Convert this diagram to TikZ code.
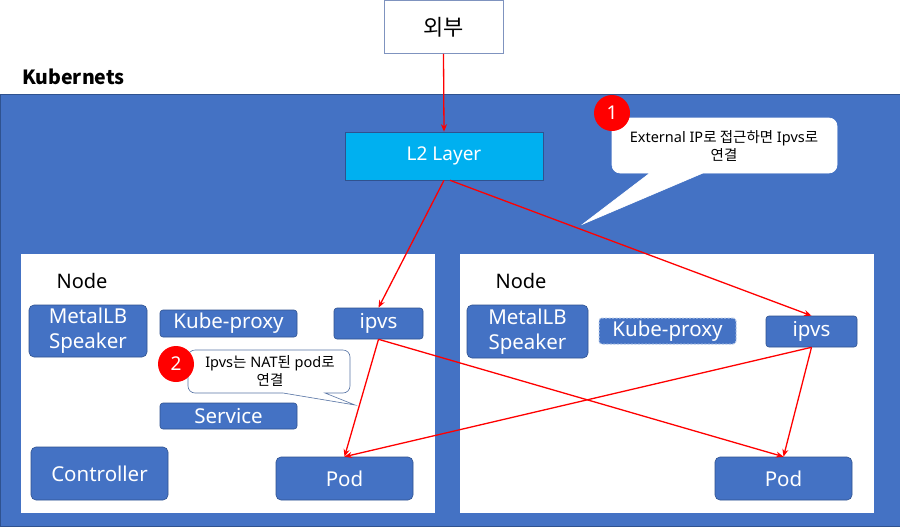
\documentclass[tikz,border=0pt]{standalone}
\usepackage{fontspec}
\setmainfont{Noto Sans}
\newfontfamily\kr{Noto Sans CJK KR}
\usetikzlibrary{arrows.meta}
\definecolor{kblue}{HTML}{4472C4}
\definecolor{kborder}{HTML}{2F528F}
\definecolor{lblue}{HTML}{00B0F0}
\definecolor{extborder}{HTML}{7F93BF}
\definecolor{dashb}{HTML}{B4C7E7}
\begin{document}
\begin{tikzpicture}[x=1pt,y=-1pt,
  bx/.style={rectangle,rounded corners=5pt,fill=kblue,draw=kborder,line width=0.6pt,
    text=white,inner sep=0pt,align=center,font=\fontsize{20.5}{24}\selectfont},
  hostbox/.style={fill=white,draw=none},
  lbl/.style={text=black,inner sep=0pt,font=\fontsize{20}{24}\selectfont},
  flow/.style={draw=red,line width=1.3pt,-{Stealth[length=7.5pt,width=6pt]}},
  badge/.style={circle,fill=red,text=white,inner sep=0pt,minimum size=36pt,font=\fontsize{19}{22}\selectfont},
  note/.style={text=black,inner sep=0pt,align=center,font=\fontsize{14.5}{17.5}\selectfont},
  callout/.style={fill=white,line width=0.6pt}]
\useasboundingbox (0,0) rectangle (900,528);
% outside
\node[rectangle,draw=extborder,fill=white,line width=0.8pt,minimum width=119pt,minimum height=53pt,
  inner sep=0pt,font=\kr\fontsize{22}{26}\selectfont] (ext) at (443.5,27) {외부};
\node[anchor=west,inner sep=0pt,font=\kr\bfseries\fontsize{19.5}{24}\selectfont] (k8s) at (22,77) {Kubernets};
% cluster background
\node[rectangle,fill=kblue,draw=kborder,line width=0.6pt,minimum width=900pt,minimum height=432pt,
  inner sep=0pt,anchor=north west] (cluster) at (0,94) {};
\node[rectangle,fill=lblue,draw=kborder,line width=0.6pt,minimum width=198pt,minimum height=48pt,
  inner sep=0pt,text=white,font=\fontsize{19}{22}\selectfont] (l2) at (444,156) {L2 Layer};
% host nodes
\node[hostbox,minimum width=414pt,minimum height=259pt,anchor=north west,inner sep=0pt] (nodeL) at (21,254) {};
\node[hostbox,minimum width=414pt,minimum height=259pt,anchor=north west,inner sep=0pt] (nodeR) at (460,254) {};
\node[lbl] (nodeLlbl) at (82,281) {Node};
\node[lbl] (nodeRlbl) at (521,281) {Node};
% left node content
\node[bx,minimum width=118pt,minimum height=52pt] (mlbL) at (88,331) {MetalLB\\[1pt]Speaker};
\node[bx,rounded corners=3pt,minimum width=137pt,minimum height=27pt] (kpL) at (228.5,323.5) {Kube-proxy};
\node[bx,rounded corners=3pt,minimum width=89pt,minimum height=31pt] (ipvsL) at (378.5,323.5) {ipvs};
\node[bx,rounded corners=3pt,minimum width=137pt,minimum height=26pt] (svc) at (228.5,416) {Service};
\node[bx,minimum width=137pt,minimum height=53pt] (ctrl) at (99.5,473.5) {Controller};
\node[bx,minimum width=137pt,minimum height=43pt] (podL) at (344.5,478.5) {Pod};
% right node content
\node[bx,minimum width=121pt,minimum height=53pt] (mlbR) at (527.5,331.5) {MetalLB\\[1pt]Speaker};
\node[bx,rounded corners=3pt,draw=dashb,line width=1pt,dash pattern=on 2pt off 1.5pt,minimum width=137pt,minimum height=26pt] (kpR) at (667.5,331) {Kube-proxy};
\node[bx,rounded corners=3pt,minimum width=91pt,minimum height=31pt] (ipvsR) at (811.5,331.5) {ipvs};
\node[bx,minimum width=137pt,minimum height=43pt] (podR) at (783.5,478.5) {Pod};
% flows
\draw[flow] (ext.south) -- (l2.north);
\draw[flow] (l2.south) -- (ipvsL.north);
\draw[flow] ([xshift=6pt]l2.south) -- (ipvsR.north);
\draw[flow] (ipvsL.south) -- (podL.north);
\draw[flow] (ipvsL.south) -- (podR.north);
\draw[flow] (ipvsR.south) -- (podL.north);
\draw[flow] (ipvsR.south) -- (podR.north);
% callout 1
\coordinate (tip1) at (583,224);
\draw[callout,draw=white] (612,126) [rounded corners=8pt] -- (612,118) -- (837,118) -- (837,173)
  [sharp corners] -- (703,173) -- (tip1) -- (650,173) [rounded corners=8pt] -- (612,173) [sharp corners] -- cycle;
\node[note] (note1) at (724,146) {External IP{\kr 로 접근하면} Ipvs{\kr 로}\\{\kr 연결}};
\node[badge] (b1) at (612,113) {1};
% callout 2
\coordinate (tip2) at (355,405);
\draw[callout,draw=kborder!80] (188,358) [rounded corners=7pt] -- (188,350) -- (350,350) -- (350,393)
  [sharp corners] -- (325,393) -- (tip2) -- (283,393) [rounded corners=7pt] -- (188,393) [sharp corners] -- cycle;
\node[note] (note2) at (270,371) {Ipvs{\kr 는} NAT{\kr 된} pod{\kr 로}\\{\kr 연결}};
\node[badge] (b2) at (176,364) {2};
\end{tikzpicture}
\end{document}
